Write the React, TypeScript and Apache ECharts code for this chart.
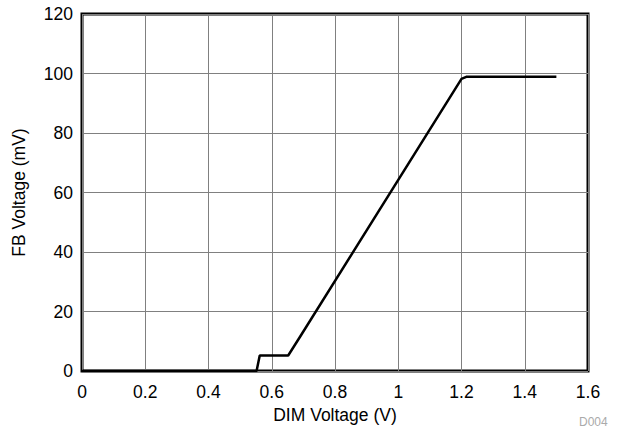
import React, { useEffect, useRef } from "react";
import * as echarts from "echarts";

const dimVoltage = [0, 0.552, 0.562, 0.652, 0.69, 1.2, 1.215, 1.5];
const fbVoltage = [0, 0, 5.2, 5.2, 11.6, 98.2, 98.9, 98.9];
const xTicks = { min: 0, max: 1.6, interval: 0.2 };
const yTicks = { min: 0, max: 120, interval: 20 };

export default function App() {
  const ref = useRef<HTMLDivElement>(null);
  useEffect(() => {
    const chart = echarts.init(ref.current!, null, { renderer: "svg" });
    const font = "'Liberation Sans', Arial, sans-serif";
    chart.setOption({
      animation: false,
      grid: {
        left: 82, right: 34, top: 14, bottom: 59,
        show: true, borderColor: "#000", borderWidth: 3,
      },
      xAxis: {
        type: "value", ...xTicks,
        name: "DIM Voltage (V)", nameLocation: "middle", nameGap: 32,
        nameTextStyle: { fontFamily: font, fontSize: 17.5, color: "#000" },
        axisLine: { show: false }, axisTick: { show: false },
        axisLabel: { fontFamily: font, fontSize: 17.5, color: "#000", margin: 12 },
        splitLine: { show: true, lineStyle: { color: "#808080", width: 1 } },
      },
      yAxis: {
        type: "value", ...yTicks,
        name: "FB Voltage (mV)", nameLocation: "middle", nameGap: 54, nameRotate: 90,
        nameTextStyle: { fontFamily: font, fontSize: 17.5, color: "#000" },
        axisLine: { show: false }, axisTick: { show: false },
        axisLabel: { fontFamily: font, fontSize: 17.5, color: "#000", margin: 9 },
        splitLine: { show: true, lineStyle: { color: "#808080", width: 1 } },
      },
      graphic: [
        {
          type: "text", left: 579, top: 416,
          style: { text: "D004", fill: "#aaa", fontFamily: font, fontSize: 12 },
        },
      ],
      series: [
        {
          type: "line",
          data: dimVoltage.map((x, i) => [x, fbVoltage[i]]),
          symbol: "none",
          lineStyle: { color: "#000", width: 2.5 },
        },
      ],
    });
    return () => chart.dispose();
  }, []);
  return (
    <div
      ref={ref}
      style={{ position: "absolute", left: 0, top: 0, width: 622, height: 430 }}
    />
  );
}
